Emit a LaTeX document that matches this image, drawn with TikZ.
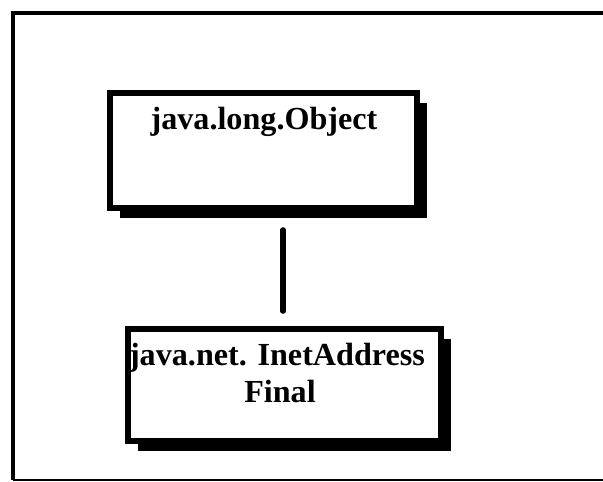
\documentclass[tikz,border=0pt]{standalone}
\usepackage{fontspec}
\setmainfont{Liberation Serif}
\usepackage{tikz}
\usetikzlibrary{shadows}

\begin{document}
\begin{tikzpicture}[x=0.02cm,y=-0.02cm,
    classbox/.style={draw,line width=3.4pt,fill=white,inner sep=0pt,
      drop shadow={shadow xshift=0.2cm,shadow yshift=-0.2cm,opacity=1,fill=black}},
    classname/.style={anchor=base,font=\bfseries\fontsize{18.3}{21}\selectfont}]
  \useasboundingbox (0,0) rectangle (603,482);
  % frame, open to the right
  \draw[line width=2.8pt] (603,13) -- (13,13) -- (13,480);
  \draw[line width=1.6pt] (13,480) -- (603,480);
  \node[classbox,minimum width=6.14cm,minimum height=2.3cm] (obj) at (263.5,150.5) {};
  \node[classbox,minimum width=6.26cm,minimum height=2.24cm] (inet) at (284.5,385) {};
  \node[classname] (objname) at (264,130) {java.long.Object};
  \node[classname] (inetname) at (277,366) {java.net. InetAddress};
  \node[classname] (inetmod) at (280,403) {Final};
  \coordinate (ltop) at (283,230);
  \coordinate (lbot) at (283,311);
  \draw[line width=3.2pt,line cap=round] (ltop) -- (lbot);
\end{tikzpicture}
\end{document}
